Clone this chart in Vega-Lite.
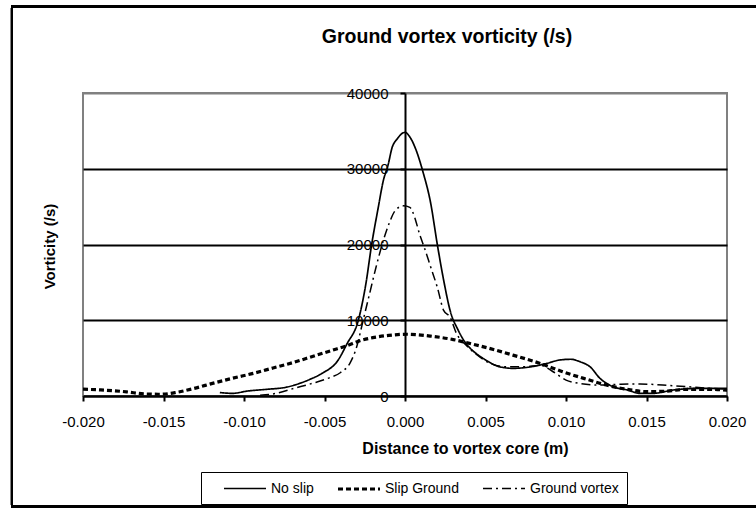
{
  "$schema": "https://vega.github.io/schema/vega-lite/v6.json",
  "width": 644,
  "height": 303,
  "autosize": {"type": "none"},
  "padding": {"left": 83, "top": 93, "right": 29, "bottom": 116},
  "background": "white",
  "config": {
    "font": "Liberation Sans",
    "view": {"stroke": "#808080", "strokeWidth": 2},
    "axis": {"labelFont": "Liberation Sans", "titleFont": "Liberation Sans", "labelColor": "black", "titleColor": "black"}
  },
  "title": {"text": "Ground vortex vorticity (/s)", "fontSize": 19.5, "fontWeight": "bold", "font": "Liberation Sans", "anchor": "middle", "dx": 42, "offset": -42, "color": "black"},
  "data": {
    "values": [
      {"s": "No slip", "d": -0.0115, "v": 450},
      {"s": "No slip", "d": -0.0107, "v": 350},
      {"s": "No slip", "d": -0.0098, "v": 650},
      {"s": "No slip", "d": -0.0086, "v": 880},
      {"s": "No slip", "d": -0.0074, "v": 1150},
      {"s": "No slip", "d": -0.0065, "v": 1700},
      {"s": "No slip", "d": -0.0059, "v": 2200},
      {"s": "No slip", "d": -0.0051, "v": 3050},
      {"s": "No slip", "d": -0.0042, "v": 4600},
      {"s": "No slip", "d": -0.0036, "v": 6900},
      {"s": "No slip", "d": -0.0029, "v": 10000},
      {"s": "No slip", "d": -0.0024, "v": 15200},
      {"s": "No slip", "d": -0.0021, "v": 19600},
      {"s": "No slip", "d": -0.00166, "v": 24900},
      {"s": "No slip", "d": -0.00135, "v": 28400},
      {"s": "No slip", "d": -0.00104, "v": 30600},
      {"s": "No slip", "d": -0.0008, "v": 32800},
      {"s": "No slip", "d": -0.0005, "v": 33900},
      {"s": "No slip", "d": 0.0, "v": 34800},
      {"s": "No slip", "d": 0.0003, "v": 34200},
      {"s": "No slip", "d": 0.0007, "v": 32400},
      {"s": "No slip", "d": 0.0011, "v": 29700},
      {"s": "No slip", "d": 0.0016, "v": 25400},
      {"s": "No slip", "d": 0.002, "v": 20100},
      {"s": "No slip", "d": 0.0024, "v": 15300},
      {"s": "No slip", "d": 0.0028, "v": 11300},
      {"s": "No slip", "d": 0.0033, "v": 8700},
      {"s": "No slip", "d": 0.0038, "v": 6900},
      {"s": "No slip", "d": 0.0042, "v": 6000},
      {"s": "No slip", "d": 0.0049, "v": 4900},
      {"s": "No slip", "d": 0.0059, "v": 3850},
      {"s": "No slip", "d": 0.0067, "v": 3650},
      {"s": "No slip", "d": 0.0078, "v": 3850},
      {"s": "No slip", "d": 0.0088, "v": 4300},
      {"s": "No slip", "d": 0.0096, "v": 4750},
      {"s": "No slip", "d": 0.0103, "v": 4850},
      {"s": "No slip", "d": 0.0109, "v": 4500},
      {"s": "No slip", "d": 0.0115, "v": 3850},
      {"s": "No slip", "d": 0.0121, "v": 2350},
      {"s": "No slip", "d": 0.0129, "v": 1250},
      {"s": "No slip", "d": 0.0138, "v": 800},
      {"s": "No slip", "d": 0.0146, "v": 350},
      {"s": "No slip", "d": 0.0154, "v": 350},
      {"s": "No slip", "d": 0.0167, "v": 800},
      {"s": "No slip", "d": 0.0181, "v": 1000},
      {"s": "No slip", "d": 0.0189, "v": 1000},
      {"s": "No slip", "d": 0.02, "v": 1000},
      {"s": "Slip Ground", "d": -0.02, "v": 900},
      {"s": "Slip Ground", "d": -0.0189, "v": 800},
      {"s": "Slip Ground", "d": -0.0173, "v": 550},
      {"s": "Slip Ground", "d": -0.0162, "v": 280},
      {"s": "Slip Ground", "d": -0.0152, "v": 230},
      {"s": "Slip Ground", "d": -0.0142, "v": 480},
      {"s": "Slip Ground", "d": -0.0131, "v": 1000},
      {"s": "Slip Ground", "d": -0.0119, "v": 1700},
      {"s": "Slip Ground", "d": -0.0107, "v": 2350},
      {"s": "Slip Ground", "d": -0.0094, "v": 3000},
      {"s": "Slip Ground", "d": -0.0082, "v": 3700},
      {"s": "Slip Ground", "d": -0.0069, "v": 4450},
      {"s": "Slip Ground", "d": -0.0057, "v": 5250},
      {"s": "Slip Ground", "d": -0.0045, "v": 6050},
      {"s": "Slip Ground", "d": -0.0036, "v": 6650},
      {"s": "Slip Ground", "d": -0.0028, "v": 7300},
      {"s": "Slip Ground", "d": -0.002, "v": 7700},
      {"s": "Slip Ground", "d": -0.001, "v": 8000},
      {"s": "Slip Ground", "d": 0.0001, "v": 8150},
      {"s": "Slip Ground", "d": 0.0016, "v": 7900},
      {"s": "Slip Ground", "d": 0.003, "v": 7450},
      {"s": "Slip Ground", "d": 0.004, "v": 6950},
      {"s": "Slip Ground", "d": 0.0053, "v": 6250},
      {"s": "Slip Ground", "d": 0.0067, "v": 5400},
      {"s": "Slip Ground", "d": 0.0084, "v": 4300},
      {"s": "Slip Ground", "d": 0.0098, "v": 3200},
      {"s": "Slip Ground", "d": 0.0113, "v": 2200},
      {"s": "Slip Ground", "d": 0.0125, "v": 1450},
      {"s": "Slip Ground", "d": 0.0138, "v": 880},
      {"s": "Slip Ground", "d": 0.015, "v": 570},
      {"s": "Slip Ground", "d": 0.0163, "v": 650},
      {"s": "Slip Ground", "d": 0.0175, "v": 880},
      {"s": "Slip Ground", "d": 0.0189, "v": 880},
      {"s": "Slip Ground", "d": 0.02, "v": 750},
      {"s": "Ground vortex", "d": -0.009, "v": 100},
      {"s": "Ground vortex", "d": -0.008, "v": 350},
      {"s": "Ground vortex", "d": -0.0069, "v": 1000},
      {"s": "Ground vortex", "d": -0.0057, "v": 1700},
      {"s": "Ground vortex", "d": -0.0047, "v": 2400},
      {"s": "Ground vortex", "d": -0.004, "v": 3100},
      {"s": "Ground vortex", "d": -0.0034, "v": 4400},
      {"s": "Ground vortex", "d": -0.003, "v": 6500},
      {"s": "Ground vortex", "d": -0.0026, "v": 10000},
      {"s": "Ground vortex", "d": -0.0022, "v": 13500},
      {"s": "Ground vortex", "d": -0.0018, "v": 17000},
      {"s": "Ground vortex", "d": -0.00135, "v": 20500},
      {"s": "Ground vortex", "d": -0.001, "v": 22700},
      {"s": "Ground vortex", "d": -0.0006, "v": 24500},
      {"s": "Ground vortex", "d": -0.0001, "v": 25100},
      {"s": "Ground vortex", "d": 0.0003, "v": 24900},
      {"s": "Ground vortex", "d": 0.0006, "v": 23600},
      {"s": "Ground vortex", "d": 0.0009, "v": 21400},
      {"s": "Ground vortex", "d": 0.0012, "v": 19600},
      {"s": "Ground vortex", "d": 0.0016, "v": 17000},
      {"s": "Ground vortex", "d": 0.002, "v": 14400},
      {"s": "Ground vortex", "d": 0.0024, "v": 11300},
      {"s": "Ground vortex", "d": 0.0028, "v": 10400},
      {"s": "Ground vortex", "d": 0.0032, "v": 8250},
      {"s": "Ground vortex", "d": 0.0038, "v": 6700},
      {"s": "Ground vortex", "d": 0.0045, "v": 5400},
      {"s": "Ground vortex", "d": 0.0053, "v": 4300},
      {"s": "Ground vortex", "d": 0.0063, "v": 3850},
      {"s": "Ground vortex", "d": 0.0074, "v": 3850},
      {"s": "Ground vortex", "d": 0.0084, "v": 4050},
      {"s": "Ground vortex", "d": 0.0092, "v": 3200},
      {"s": "Ground vortex", "d": 0.01, "v": 2100},
      {"s": "Ground vortex", "d": 0.0109, "v": 1650},
      {"s": "Ground vortex", "d": 0.0121, "v": 1450},
      {"s": "Ground vortex", "d": 0.0134, "v": 1550},
      {"s": "Ground vortex", "d": 0.0146, "v": 1580},
      {"s": "Ground vortex", "d": 0.016, "v": 1450},
      {"s": "Ground vortex", "d": 0.0175, "v": 1230},
      {"s": "Ground vortex", "d": 0.0189, "v": 1010},
      {"s": "Ground vortex", "d": 0.02, "v": 900}
    ]
  },
  "layer": [
    {
      "mark": {"type": "line", "interpolate": "monotone", "clip": false},
      "encoding": {
        "x": {
          "field": "d", "type": "quantitative",
          "scale": {"domain": [-0.02, 0.02], "nice": false, "zero": false},
          "axis": {
            "title": "Distance to vortex core (m)",
            "values": [-0.02, -0.015, -0.01, -0.005, 0, 0.005, 0.01, 0.015, 0.02],
            "labelExpr": "(datum.value < -0.000001 ? '-' : '') + format(abs(datum.value), '.3f')",
            "grid": false,
            "domainColor": "black", "domainWidth": 2,
            "tickColor": "black", "tickWidth": 2, "tickSize": 5,
            "labelFontSize": 15, "labelPadding": 13, "labelFlush": false,
            "titleFontSize": 16, "titleFontWeight": "bold",
            "titleX": 382, "titleY": 44, "titleBaseline": "top", "titleAlign": "center"
          }
        },
        "y": {
          "field": "v", "type": "quantitative",
          "scale": {"domain": [0, 40000], "nice": false},
          "axis": {
            "title": "Vorticity (/s)",
            "offset": -322,
            "values": [0, 10000, 20000, 30000, 40000],
            "format": "d",
            "grid": true,
            "gridColor": {"condition": {"test": "datum.value >= 40000", "value": "#808080"}, "value": "black"},
            "gridWidth": 2,
            "domainColor": "black", "domainWidth": 2,
            "tickColor": "black", "tickWidth": 2, "tickSize": 5,
            "labelFontSize": 15, "labelPadding": 12,
            "titleFontSize": 15, "titleFontWeight": "bold",
            "titleX": -356, "titleY": 153, "titleAngle": -90, "titleBaseline": "middle", "titleAlign": "center"
          }
        },
        "color": {
          "field": "s", "type": "nominal",
          "scale": {"domain": ["No slip", "Slip Ground", "Ground vortex"], "range": ["black", "black", "black"]},
          "legend": {
            "title": null, "orient": "none", "legendX": 118, "legendY": 379,
            "direction": "horizontal", "columns": 3,
            "strokeColor": "black", "fillColor": "white", "padding": 8,
            "symbolType": "M-3,0H3", "symbolSize": 196, "symbolOffset": 27, "symbolStrokeColor": "black",
            "labelFontSize": 14, "labelFont": "Liberation Sans", "labelColor": "black",
            "labelOffset": 17, "columnPadding": 9
          }
        },
        "strokeDash": {
          "field": "s", "type": "nominal",
          "scale": {"domain": ["No slip", "Slip Ground", "Ground vortex"], "range": [[1, 0], [5, 3], [9, 4, 2, 4]]}
        },
        "strokeWidth": {
          "field": "s", "type": "nominal",
          "scale": {"type": "ordinal", "domain": ["No slip", "Slip Ground", "Ground vortex"], "range": [1.7, 3.2, 1.5]}
        }
      }
    },
    {
      "mark": {"type": "rect", "fill": null, "stroke": "black", "strokeWidth": 2, "clip": false},
      "encoding": {
        "x": {"datum": -0.02441, "type": "quantitative", "scale": {"domain": [-0.02, 0.02], "nice": false, "zero": false}},
        "x2": {"datum": 0.0226},
        "y": {"datum": 51456, "type": "quantitative", "scale": {"domain": [0, 40000], "nice": false}},
        "y2": {"datum": -14608}
      }
    }
  ]
}
